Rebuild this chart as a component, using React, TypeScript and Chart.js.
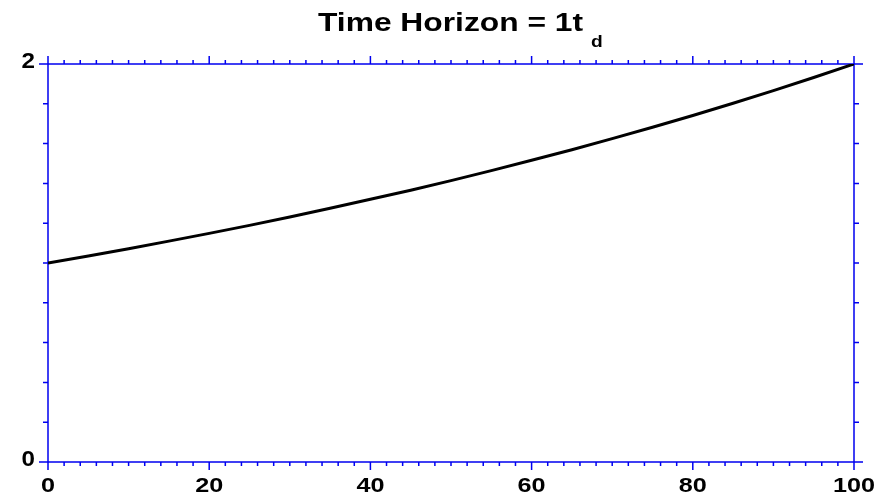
import React, { useEffect, useRef } from "react";
import { Chart, registerables } from "chart.js";

Chart.register(...registerables);

// ---- data ----
const xValues = [0, 5, 10, 15, 20, 25, 30, 35, 40, 45, 50, 55, 60, 65, 70, 75, 80, 85, 90, 95, 100];
const yValues = [1.0, 1.035, 1.072, 1.11, 1.149, 1.189, 1.231, 1.275, 1.32, 1.366, 1.414, 1.464, 1.516, 1.569, 1.625, 1.682, 1.741, 1.803, 1.866, 1.932, 2.0];

const xTickLabels = [0, 20, 40, 60, 80, 100];
const yTickLabels = [0, 2];
const xMinorStep = 2;
const yMinorStep = 0.2;
const xMin = 0, xMax = 100, yMin = 0, yMax = 2;

const titleMain = "Time Horizon = 1t";
const titleSub = "d";

const BLUE = "#0000f0";
const FONT = "'Liberation Sans', Arial, Helvetica, sans-serif";

function stretchText(ctx: CanvasRenderingContext2D, text: string, x: number, y: number, align: CanvasTextAlign, sx: number) {
  ctx.save();
  ctx.translate(x, y);
  ctx.scale(sx, 1);
  ctx.textAlign = align;
  ctx.textBaseline = "alphabetic";
  ctx.fillText(text, 0, 0);
  ctx.restore();
}

const framePlugin = {
  id: "frame",
  beforeDatasetsDraw(chart: any) {
    const ctx: CanvasRenderingContext2D = chart.ctx;
    const xs = chart.scales.x;
    const ys = chart.scales.y;
    const L = xs.getPixelForValue(xMin);
    const R = xs.getPixelForValue(xMax);
    const T = ys.getPixelForValue(yMax);
    const B = ys.getPixelForValue(yMin);
    ctx.save();
    ctx.strokeStyle = BLUE;
    ctx.lineWidth = 1.5;
    ctx.lineCap = "butt";
    ctx.beginPath();
    ctx.moveTo(L - 9, T); ctx.lineTo(R + 9, T);
    ctx.moveTo(L - 9, B); ctx.lineTo(R + 9, B);
    ctx.moveTo(L, T - 8); ctx.lineTo(L, B + 8);
    ctx.moveTo(R, T - 8); ctx.lineTo(R, B + 8);
    for (let v = xMin; v <= xMax + 1e-9; v += xMinorStep) {
      const p = xs.getPixelForValue(v);
      const major = xTickLabels.some((t) => Math.abs(t - v) < 1e-6);
      const len = major ? 8 : 4;
      ctx.moveTo(p, T); ctx.lineTo(p, T - len);
      ctx.moveTo(p, B); ctx.lineTo(p, B + len);
    }
    for (let v = yMin; v <= yMax + 1e-9; v += yMinorStep) {
      const p = ys.getPixelForValue(v);
      ctx.moveTo(L, p); ctx.lineTo(L - 5, p);
      ctx.moveTo(R, p); ctx.lineTo(R + 5, p);
    }
    ctx.stroke();

    ctx.fillStyle = "#000";
    ctx.font = `bold 21px ${FONT}`;
    for (const t of xTickLabels) {
      stretchText(ctx, String(t), xs.getPixelForValue(t), B + 30, "center", 1.2);
    }
    ctx.font = `bold 22px ${FONT}`;
    for (const t of yTickLabels) {
      stretchText(ctx, String(t), L - 13, ys.getPixelForValue(t) + 4, "right", 1.1);
    }

    ctx.font = `bold 25px ${FONT}`;
    const w = ctx.measureText(titleMain).width;
    const sx = 265 / w;
    stretchText(ctx, titleMain, 318, 31, "left", sx);
    ctx.font = `bold 16px ${FONT}`;
    stretchText(ctx, titleSub, 591, 47, "left", 1.2);
    ctx.restore();
  },
};

export default function App() {
  const ref = useRef<HTMLCanvasElement>(null);
  useEffect(() => {
    if (!ref.current) return;
    const chart = new Chart(ref.current, {
      type: "line",
      data: {
        datasets: [
          {
            data: xValues.map((x, i) => ({ x, y: yValues[i] })),
            borderColor: "#000",
            borderWidth: 3,
            pointRadius: 0,
            tension: 0,
            fill: false,
          },
        ],
      },
      options: {
        animation: false,
        responsive: true,
        maintainAspectRatio: false,
        layout: { padding: { left: 48, top: 64, right: 36, bottom: 37 } },
        plugins: { legend: { display: false }, tooltip: { enabled: false }, title: { display: false } },
        scales: {
          x: { type: "linear", min: xMin, max: xMax, display: false },
          y: { type: "linear", min: yMin, max: yMax, display: false },
        },
      },
      plugins: [framePlugin],
    });
    return () => chart.destroy();
  }, []);
  return (
    <div style={{ position: "fixed", left: 0, top: 0, width: 890, height: 499, background: "#fff" }}>
      <canvas ref={ref} />
    </div>
  );
}
